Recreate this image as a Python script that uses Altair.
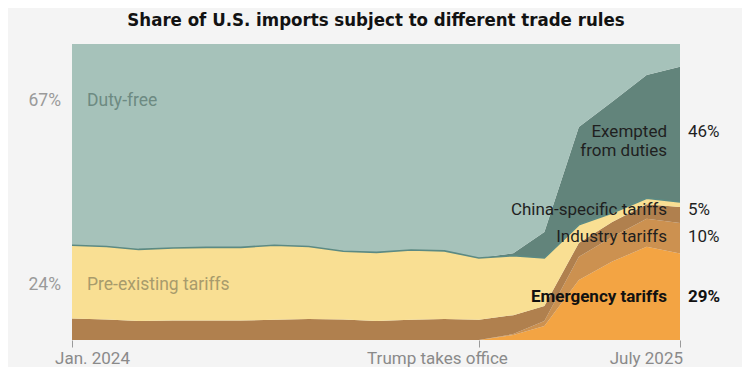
import altair as alt
import pandas as pd

months = ["2024-01-01", "2024-02-01", "2024-03-01", "2024-04-01", "2024-05-01",
          "2024-06-01", "2024-07-01", "2024-08-01", "2024-09-01", "2024-10-01",
          "2024-11-01", "2024-12-01", "2025-01-01", "2025-02-01", "2025-03-01",
          "2025-04-01", "2025-05-01", "2025-06-01", "2025-07-01"]

emergency = [0, 0, 0, 0, 0, 0, 0, 0, 0, 0, 0, 0, 0, 1.7, 4.7, 20.3, 26.5, 31.5, 29.2]
industry = [0, 0, 0, 0, 0, 0, 0, 0, 0, 0, 0, 0, 0, 0.3, 1.7, 7.8, 8.3, 9.5, 10.3]
china = [7.3, 6.9, 6.4, 6.6, 6.6, 6.6, 6.8, 7.1, 6.9, 6.4, 6.8, 7.1, 6.8, 6.4, 5.1, 4.7, 5.1, 4.9, 5.4]
pre_existing = [24.7, 24.7, 24.2, 24.5, 24.7, 24.7, 25.2, 24.5, 23.1, 23.2, 23.6, 23.0, 20.9, 20.1, 16.2, 6.1, 3.0, 2.0, 1.7]
exempted = [0, 0, 0, 0, 0, 0, 0, 0, 0, 0, 0, 0, 0, 0.8, 8.8, 33.1, 37.6, 41.6, 45.7]
duty_free = [68.0, 68.4, 69.4, 68.9, 68.7, 68.7, 68.0, 68.4, 70.0, 70.4, 69.6, 69.9, 72.3, 70.7, 63.5, 28.0, 19.5, 10.5, 7.7]

series_names = ["Emergency tariffs", "Industry tariffs", "China-specific tariffs",
                "Pre-existing tariffs", "Exempted from duties", "Duty-free"]
series_values = [emergency, industry, china, pre_existing, exempted, duty_free]
series_colors = ["#f3a443", "#cc9150", "#b0804e", "#f9df93", "#62847b", "#a6c2ba"]

rows = []
for k, (name, vals) in enumerate(zip(series_names, series_values)):
    for m, v in zip(months, vals):
        rows.append({"date": m, "series": name, "share": v, "order": k})
df = pd.DataFrame(rows)

# boundary between tariffed goods and duty-free / exempted goods
line_df = pd.DataFrame({
    "date": months,
    "level": [a + b + c + d for a, b, c, d in zip(emergency, industry, china, pre_existing)],
})

x_scale = alt.Scale(domain=[alt.DateTime(year=2024, month=1, date=1, utc=True),
                            alt.DateTime(year=2025, month=7, date=1, utc=True)])
y_scale = alt.Scale(domain=[0, 100])

tick_values = [alt.DateTime(year=2024, month=1, date=1, utc=True),
               alt.DateTime(year=2025, month=1, date=1, utc=True),
               alt.DateTime(year=2025, month=7, date=1, utc=True)]

areas = alt.Chart(df).mark_area(interpolate="linear").encode(
    x=alt.X("date:T", scale=x_scale,
            axis=alt.Axis(values=tick_values, labels=False, domain=False, grid=False,
                          ticks=True, tickSize=7, tickColor="#9a9a9a", tickWidth=1, title=None)),
    y=alt.Y("share:Q", stack="zero", scale=y_scale, axis=None),
    color=alt.Color("series:N", scale=alt.Scale(domain=series_names, range=series_colors), legend=None),
    order=alt.Order("order:Q", sort="ascending"),
)

boundary = alt.Chart(line_df).mark_line(color="#5c8a83", strokeWidth=1.6).encode(
    x=alt.X("date:T", scale=x_scale),
    y=alt.Y("level:Q", scale=y_scale),
)

FONT = "Roboto"
FS = 17.5

# annotation table (level = share position on the y scale)
left_labels = pd.DataFrame({
    "date": [months[0], months[0]],
    "text": ["Duty-free", "Pre-existing tariffs"],
    "pct": ["67%", "24%"],
    "level": [80.9, 18.6],
    "color": ["#6d8a82", "#a89b6c"],
})
right_labels = pd.DataFrame({
    "date": [months[-1]] * 5,
    "text": ["Exempted", "from duties", "China-specific tariffs", "Industry tariffs", "Emergency tariffs"],
    "pct": ["46%", "", "5%", "10%", "29%"],
    "level": [70.4, 63.9, 43.9, 34.9, 14.4],
    "bold": [False, False, False, False, True],
})

def txt(data, field, align, dx, color=None, weight="normal", color_field=None, size=FS):
    mk = alt.Chart(data).mark_text(align=align, baseline="middle", dx=dx, font=FONT,
                                   fontSize=size, fontWeight=weight,
                                   **({"color": color} if color else {}))
    enc = dict(x=alt.X("date:T", scale=x_scale), y=alt.Y("level:Q", scale=y_scale), text=f"{field}:N")
    if color_field:
        enc["color"] = alt.Color(f"{color_field}:N", scale=None)
    return mk.encode(**enc)

l_text = txt(left_labels, "text", "left", 15, color_field="color")
l_pct = txt(left_labels, "pct", "right", -11, color="#9a9a9a")
rn = right_labels[~right_labels["bold"]]
rb = right_labels[right_labels["bold"]]
r_text = txt(rn, "text", "right", -13, color="#1f1f1f", size=17)
r_pct = txt(rn, "pct", "left", 8, color="#1f1f1f", size=17)
rb_text = txt(rb, "text", "right", -13, color="#111111", weight="bold", size=17)
rb_pct = txt(rb, "pct", "left", 8, color="#111111", weight="bold", size=17)

tick_df = pd.DataFrame({"date": ["2024-01-01", "2025-01-01", "2025-07-01"],
                        "label": ["Jan. 2024", "Trump takes office", "July 2025"]})

def tick_label(i, align, dx):
    return alt.Chart(tick_df.iloc[[i]]).mark_text(
        align=align, baseline="middle", dx=dx, font=FONT, fontSize=17, color="#8a8a8a"
    ).encode(x=alt.X("date:T", scale=x_scale), y=alt.value(315), text="label:N")

chart = alt.layer(
    areas, boundary, l_text, l_pct, r_text, r_pct, rb_text, rb_pct,
    tick_label(0, "left", -17), tick_label(1, "right", 29), tick_label(2, "right", 3),
).properties(
    width=608, height=296,
    title=alt.TitleParams("Share of U.S. imports subject to different trade rules",
                          font="Liberation Sans Narrow, DejaVu Sans Condensed, Roboto, sans-serif",
                          fontSize=18.5, fontWeight="bold",
                          color="#121212", anchor="middle", offset=15),
    padding={"left": 64, "top": 36, "right": 62, "bottom": 27},
    autosize=alt.AutoSizeParams(type="none"),
    background="#f4f4f4",
).configure_view(stroke=None)

chart.save("out.html", embed_options={"renderer": "svg", "actions": False})
